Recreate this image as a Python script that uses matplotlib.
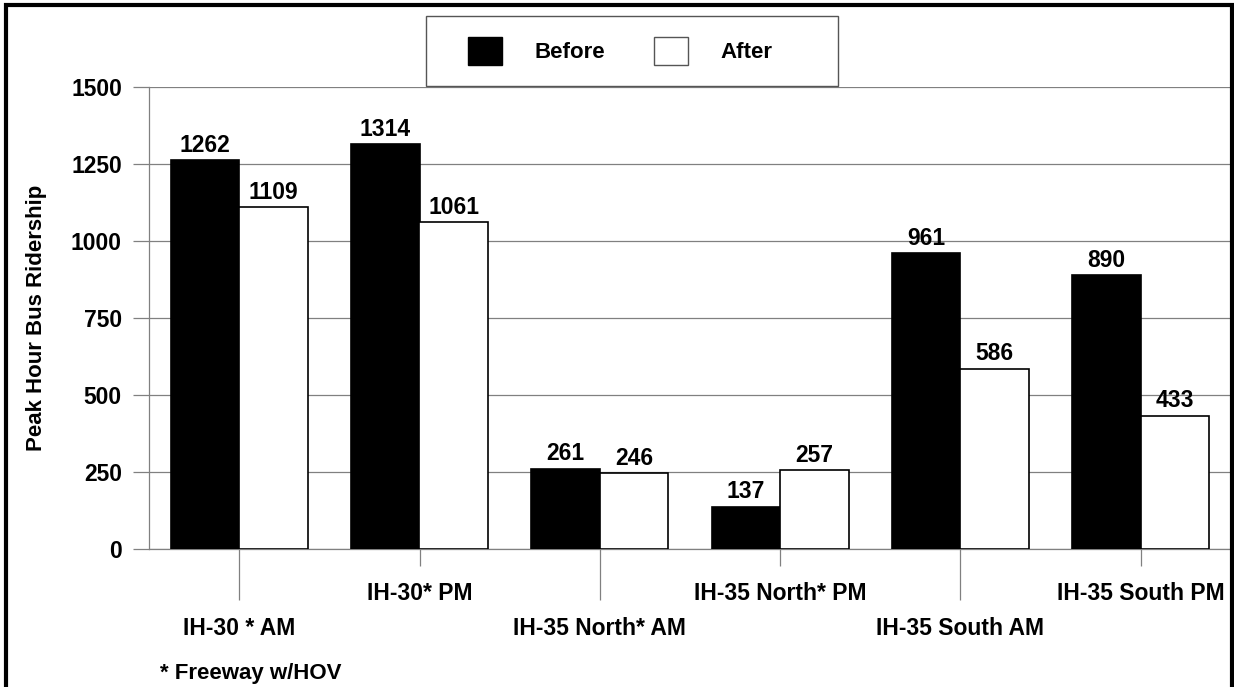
import numpy as np
import matplotlib.pyplot as plt
from matplotlib.patches import Rectangle, Patch

plt.rcParams['font.family'] = ['Liberation Sans', 'DejaVu Sans']
plt.rcParams['font.weight'] = 'bold'
plt.rcParams['axes.labelweight'] = 'bold'

# data
categories = ['IH-30 * AM', 'IH-30* PM', 'IH-35 North* AM', 'IH-35 North* PM',
              'IH-35 South AM', 'IH-35 South PM']
before = [1262, 1314, 261, 137, 961, 890]
after = [1109, 1061, 246, 257, 586, 433]
yticks = [0, 250, 500, 750, 1000, 1250, 1500]

W, H = 1234, 687
fig = plt.figure(figsize=(W / 100, H / 100), dpi=100)
ax = fig.add_axes([149 / W, 1 - 549 / H, (1231 - 149) / W, (549 - 87) / H])

x = np.arange(len(categories))
bw = 0.38
b1 = ax.bar(x - bw / 2, before, bw, color='black', edgecolor='black', linewidth=1.2, zorder=3)
b2 = ax.bar(x + bw / 2, after, bw, color='white', edgecolor='black', linewidth=1.2, zorder=3)

# value labels above the bars
for bars, vals in [(b1, before), (b2, after)]:
    for r, v in zip(bars, vals):
        ax.annotate(str(v), (r.get_x() + r.get_width() / 2, v), xytext=(0, 6),
                    textcoords='offset points', ha='center', va='baseline',
                    fontsize=16.5)

ax.set_xlim(-0.5, len(categories) - 0.5)
ax.set_ylim(0, 1500)
ax.set_yticks(yticks)
ax.yaxis.grid(True, color='#808080', linewidth=0.9, zorder=0)
ax.set_axisbelow(True)

for s in ['top', 'right']:
    ax.spines[s].set_visible(False)
for s in ['left', 'bottom']:
    ax.spines[s].set_color('#808080')
    ax.spines[s].set_linewidth(0.9)

ax.tick_params(axis='y', length=11.5, width=0.9, color='#808080', pad=8, labelsize=16.5)

# staggered category labels: long ticks for 1st/3rd/5th, short for the others
ax.set_xticks(x[::2])
ax.set_xticklabels(categories[::2])
ax.set_xticks(x[1::2], minor=True)
ax.set_xticklabels(categories[1::2], minor=True)
ax.tick_params(axis='x', which='major', length=37, width=0.9, color='#808080', pad=12, labelsize=16.5)
ax.tick_params(axis='x', which='minor', length=12, width=0.9, color='#808080', pad=12, labelsize=16.5)

ax.set_ylabel('Peak Hour Bus Ridership', fontsize=16)
ax.yaxis.set_label_coords((47 - 149) / (1231 - 149), 0.5)

# legend with its own box
fig.patches.append(Rectangle((426 / W, 1 - 86 / H), (838 - 426) / W, 70 / H,
                             transform=fig.transFigure, facecolor='white',
                             edgecolor='#555555', linewidth=1.0))
handles = [Patch(facecolor='black', edgecolor='black'),
           Patch(facecolor='white', edgecolor='#555555')]
fig.legend(handles, ['Before', 'After'], loc='center', ncol=2,
           bbox_to_anchor=(620 / W, 1 - 51 / H), frameon=False, fontsize=16,
           handlelength=1.53, handleheight=1.6, handletextpad=1.45,
           columnspacing=2.2)

fig.text(160 / W, 1 - 673 / H, '* Freeway w/HOV', fontsize=16, va='center', ha='left')

# outer frame of the figure
fig.patches.append(Rectangle((6 / W, -0.05), (1232 - 6) / W, 1.05 - 5 / H,
                             transform=fig.transFigure, fill=False,
                             edgecolor='black', linewidth=3))

fig.savefig('out.png', dpi=100)
